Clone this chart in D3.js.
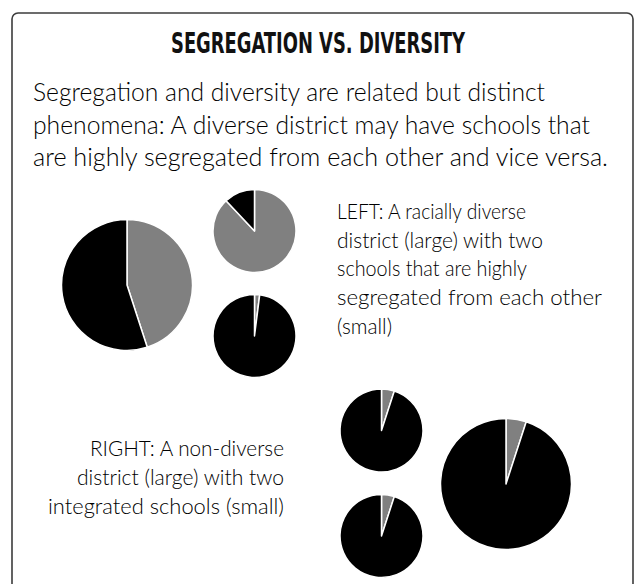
<!DOCTYPE html>
<html lang="en">
<head>
    <meta charset="UTF-8">
    <title>Segregation vs. Diversity</title>
    <script src="https://d3js.org/d3.v7.min.js"></script>
    <style>
        body { margin: 0; background: #fff; }
        svg { display: block; }
    </style>
</head>
<body>
    <script>
        const width = 634;
        const height = 584;

        // share of each group, gray first then black
        const groups = ["other", "majority"];
        const leftDistrict = [45, 55];
        const leftSchoolA = [88, 12];
        const leftSchoolB = [2, 98];
        const rightDistrict = [5, 95];
        const rightSchoolA = [5, 95];
        const rightSchoolB = [5, 95];

        const title = "SEGREGATION VS. DIVERSITY";
        const introLines = [
            "Segregation and diversity are related but distinct",
            "phenomena: A diverse district may have schools that",
            "are highly segregated from each other and vice versa."
        ];
        const leftNote = [
            "LEFT: A racially diverse",
            "district (large) with two",
            "schools that are highly",
            "segregated from each other",
            "(small)"
        ];
        const rightNote = [
            "RIGHT: A non-diverse",
            "district (large) with two",
            "integrated schools (small)"
        ];

        const color = d3.scaleOrdinal().domain(groups).range(["#808080", "#000000"]);
        const radius = d3.scaleOrdinal().domain(["district", "school"]).range([65.5, 41.5]);

        const pies = [
            { values: leftDistrict, kind: "district", cx: 127, cy: 285 },
            { values: leftSchoolA, kind: "school", cx: 254.5, cy: 231 },
            { values: leftSchoolB, kind: "school", cx: 254.5, cy: 336 },
            { values: rightSchoolA, kind: "school", cx: 381.5, cy: 430.5 },
            { values: rightSchoolB, kind: "school", cx: 381.5, cy: 536 },
            { values: rightDistrict, kind: "district", cx: 506, cy: 484 }
        ];

        const svg = d3.select("body").append("svg")
            .attr("width", width)
            .attr("height", height);

        // frame with rounded corners, cut by the window
        svg.append("rect")
            .attr("x", 12)
            .attr("y", 13)
            .attr("width", 621)
            .attr("height", 620)
            .attr("rx", 6)
            .attr("fill", "none")
            .attr("stroke", "#3c3c3c")
            .attr("stroke-width", 1.6);

        const bodyFont = "Lato, 'Open Sans', sans-serif";

        function fit(sel, target) {
            sel.each(function () {
                const w = this.getComputedTextLength();
                if (target && Math.abs(w - target) > 1) {
                    d3.select(this).attr("textLength", target).attr("lengthAdjust", "spacingAndGlyphs");
                }
            });
        }

        svg.append("text")
            .attr("x", 318)
            .attr("y", 53)
            .attr("text-anchor", "middle")
            .style("font-family", "'Liberation Sans Narrow', 'DejaVu Sans Condensed', sans-serif")
            .style("font-weight", "bold")
            .style("font-size", "28px")
            .attr("fill", "#111")
            .text(title)
            .call(fit, 294);

        const introWidths = [512, 557, 575];
        svg.selectAll(".intro")
            .data(introLines)
            .join("text")
            .attr("class", "intro")
            .attr("x", 33)
            .attr("y", (d, i) => 101 + i * 32.5)
            .style("font-family", bodyFont)
            .style("font-weight", 300)
            .style("font-size", "24.5px")
            .attr("fill", "#000")
            .text(d => d)
            .each(function (d, i) { fit(d3.select(this), introWidths[i]); });

        const leftWidths = [189, 206, 190, 265, 55];
        svg.selectAll(".left-note")
            .data(leftNote)
            .join("text")
            .attr("class", "left-note")
            .attr("x", 337)
            .attr("y", (d, i) => 219 + i * 28.7)
            .style("font-family", bodyFont)
            .style("font-weight", 300)
            .style("font-size", "22px")
            .attr("fill", "#000")
            .text(d => d)
            .each(function (d, i) { fit(d3.select(this), leftWidths[i]); });

        const rightWidths = [194, 207, 236];
        svg.selectAll(".right-note")
            .data(rightNote)
            .join("text")
            .attr("class", "right-note")
            .attr("x", 284)
            .attr("y", (d, i) => 456 + i * 29)
            .attr("text-anchor", "end")
            .style("font-family", bodyFont)
            .style("font-weight", 300)
            .style("font-size", "22px")
            .attr("fill", "#000")
            .text(d => d)
            .each(function (d, i) { fit(d3.select(this), rightWidths[i]); });

        const pie = d3.pie().sort(null).value(d => d.value);

        pies.forEach(p => {
            const r = radius(p.kind);
            const arc = d3.arc().innerRadius(0).outerRadius(r);
            const slices = pie(p.values.map((v, i) => ({ group: groups[i], value: v })));
            svg.append("g")
                .attr("transform", `translate(${p.cx},${p.cy})`)
                .selectAll("path")
                .data(slices)
                .join("path")
                .attr("d", arc)
                .attr("fill", d => color(d.data.group))
                .attr("stroke", "#fff")
                .attr("stroke-width", 1.5)
                .attr("stroke-linejoin", "round");
        });
    </script>
</body>
</html>
